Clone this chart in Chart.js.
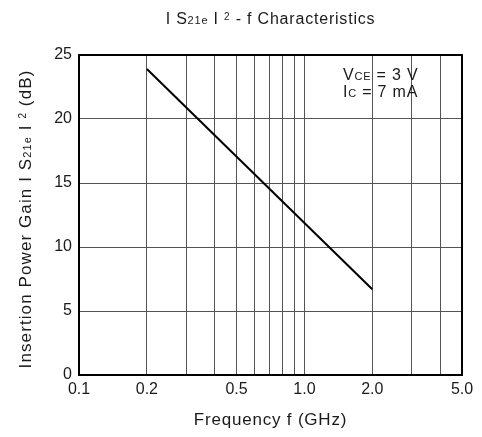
<!DOCTYPE html>
<html>
<head>
<meta charset="utf-8">
<script src="https://cdn.jsdelivr.net/npm/chart.js@4.4.1/dist/chart.umd.min.js"></script>
<style>
  html, body { margin: 0; padding: 0; background: #fff; }
  #wrap { width: 482px; height: 437px; position: relative; }
</style>
</head>
<body>
<div id="wrap"><canvas id="c"></canvas></div>
<script>
// data
var freqGHz = [0.2, 2.0];
var gainDb = [23.9, 6.7];
var gridFreqs = [0.1, 0.2, 0.3, 0.4, 0.5, 0.6, 0.7, 0.8, 0.9, 1.0, 2.0, 3.0, 4.0, 5.0];
var xTickLabels = ['0.1', '0.2', '0.5', '1.0', '2.0', '5.0'];
var yTicks = [0, 5, 10, 15, 20, 25];

var FONT = '"Liberation Sans", Arial, sans-serif';
var INK = '#1a1a1a';

// draw a run of text pieces with different sizes (for subscripts)
function richText(ctx, parts, x, y, align, spacing) {
	ctx.letterSpacing = (spacing || 0) + 'px';
	var total = 0;
	parts.forEach(function(p) {
		ctx.font = p.s + 'px ' + FONT;
		p.w = ctx.measureText(p.t).width;
		total += p.w;
	});
	var cx = align === 'center' ? x - total / 2 : x;
	ctx.textBaseline = 'alphabetic';
	ctx.textAlign = 'left';
	parts.forEach(function(p) {
		ctx.font = p.s + 'px ' + FONT;
		ctx.fillText(p.t, cx, y + (p.dy || 0));
		cx += p.w;
	});
	ctx.letterSpacing = '0px';
}

var decor = {
	id: 'decor',
	afterDraw: function(chart) {
		var ctx = chart.ctx, a = chart.chartArea;
		ctx.save();
		// frame
		ctx.strokeStyle = '#000';
		ctx.lineWidth = 2;
		ctx.strokeRect(a.left, a.top, a.right - a.left, a.bottom - a.top);

		ctx.fillStyle = INK;
		var mid = (a.left + a.right) / 2;
		// title
		richText(ctx, [
			{t: 'I S', s: 16}, {t: '21e', s: 11}, {t: ' I ', s: 16},
			{t: '2', s: 10, dy: -4}, {t: ' - f Characteristics', s: 16}
		], mid, 24, 'center', 0.8);

		// y title, rotated
		ctx.save();
		ctx.translate(31, (a.top + a.bottom) / 2 + 4);
		ctx.rotate(-Math.PI / 2);
		richText(ctx, [
			{t: 'Insertion Power Gain I S', s: 17}, {t: '21e', s: 11}, {t: ' I ', s: 17},
			{t: '2', s: 10, dy: -5}, {t: ' (dB)', s: 17}
		], 0, 0, 'center', 1.1);
		ctx.restore();

		// x title
		richText(ctx, [{t: 'Frequency f (GHz)', s: 17}], mid, 425, 'center', 0.8);

		// conditions
		richText(ctx, [{t: 'V', s: 16}, {t: 'CE', s: 11}, {t: ' = 3 V', s: 16}], 343, 80, 'left', 0.8);
		richText(ctx, [{t: 'I', s: 16}, {t: 'C', s: 11}, {t: ' = 7 mA', s: 16}], 343, 97, 'left', 0.8);
		ctx.restore();
	}
};

var chart = new Chart(document.getElementById('c'), {
	type: 'line',
	data: {
		datasets: [{
			data: freqGHz.map(function(f, i) { return {x: f, y: gainDb[i]}; }),
			borderColor: '#000',
			borderWidth: 2,
			pointRadius: 0,
			tension: 0
		}]
	},
	options: {
		responsive: true,
		maintainAspectRatio: false,
		animation: false,
		events: [],
		layout: { padding: { top: 55, right: 20, left: 0, bottom: 0 } },
		plugins: { legend: { display: false }, tooltip: { enabled: false }, title: { display: false } },
		scales: {
			x: {
				type: 'logarithmic',
				min: 0.1,
				max: 5.0,
				afterBuildTicks: function(s) {
					s.ticks = gridFreqs.map(function(v) { return {value: v}; });
				},
				afterFit: function(s) { s.height = 62; },
				grid: { color: '#555', lineWidth: 1, drawTicks: false },
				border: { display: false },
				ticks: {
					autoSkip: false,
					maxRotation: 0,
					padding: 5,
					color: INK,
					font: { family: FONT, size: 16 },
					callback: function(v) {
						var lbl = v.toFixed(1);
						return xTickLabels.indexOf(lbl) >= 0 ? lbl : '';
					}
				}
			},
			y: {
				min: 0,
				max: 25,
				afterBuildTicks: function(s) {
					s.ticks = yTicks.map(function(v) { return {value: v}; });
				},
				afterFit: function(s) { s.width = 79; },
				grid: { color: '#555', lineWidth: 1, drawTicks: false },
				border: { display: false },
				ticks: {
					padding: 7,
					color: INK,
					font: { family: FONT, size: 16 }
				}
			}
		}
	},
	plugins: [decor]
});
</script>
</body>
</html>
